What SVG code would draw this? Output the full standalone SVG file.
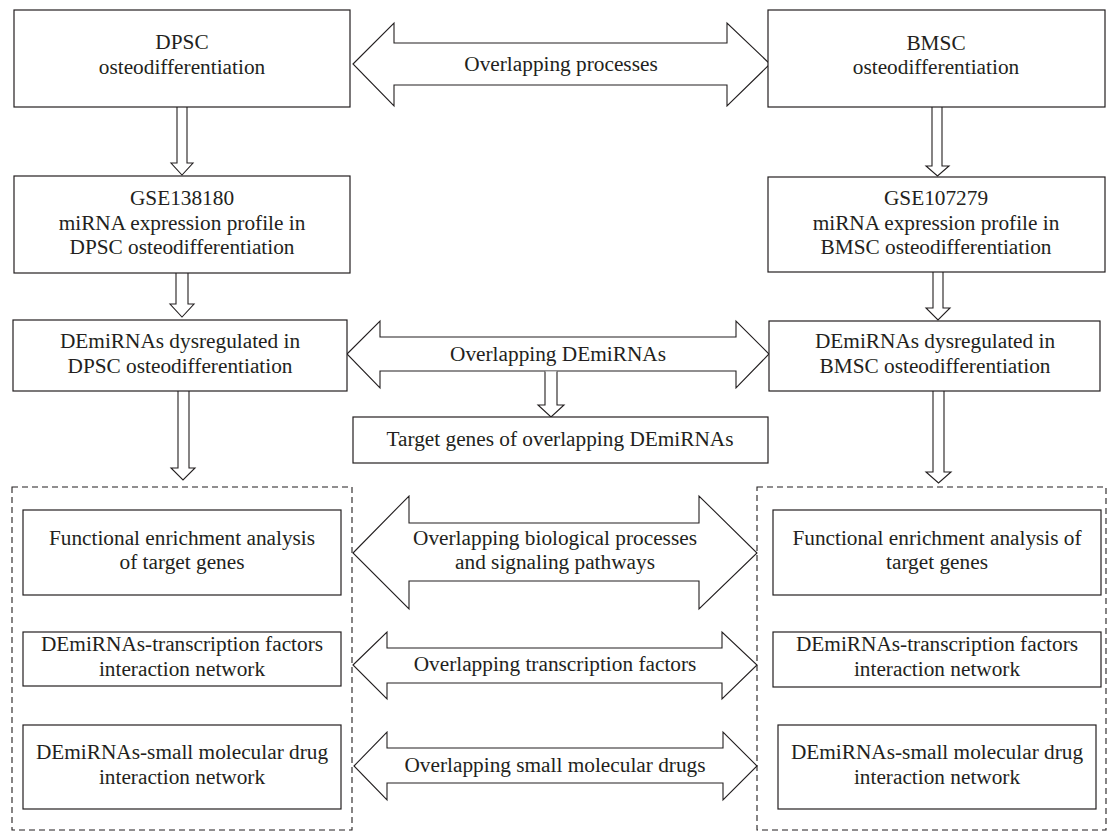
<svg xmlns="http://www.w3.org/2000/svg" width="1107" height="831" viewBox="0 0 1107 831">
<style>
  .box{fill:#fff;stroke:#231f20;stroke-width:1.2}
  .arr{fill:#fff;stroke:#231f20;stroke-width:1.1;stroke-linejoin:miter}
  .dash{fill:none;stroke:#231f20;stroke-width:1.1;stroke-dasharray:6 4}
  text{font-family:"Liberation Serif","Times New Roman",serif;font-size:21.3px;fill:#231f20;text-anchor:middle}
</style>
<rect width="1107" height="831" fill="#fff"/>
<g id="groups">
  <rect id="left-group" class="dash" x="12" y="487" width="340" height="343"/>
  <rect id="right-group" class="dash" x="757" y="487" width="349" height="343"/>
</g>
<g id="connectors">
  <path class="arr" d="M353,64 L394,23 L394,43 L727,43 L727,23 L770,64 L727,106 L727,85 L394,85 L394,106 Z"/>
  <text x="561" y="71">Overlapping processes</text>
  <path class="arr" d="M347,354 L380,321 L380,337 L736,337 L736,321 L769,354 L736,388 L736,371 L380,371 L380,388 Z"/>
  <text x="558" y="361">Overlapping DEmiRNAs</text>
  <path class="arr" d="M545,371.5 L545,405 L538,405 L551,417 L564,405 L557,405 L557,371.5"/>
  <path class="arr" d="M353,553 L409,496 L409,523 L699,523 L699,496 L757,553 L699,609 L699,581 L409,581 L409,609 Z"/>
  <text x="555" y="545">Overlapping biological processes</text>
  <text x="555" y="569">and signaling pathways</text>
  <path class="arr" d="M353,665 L387,632 L387,648 L722,648 L722,632 L757,665 L722,699 L722,683 L387,683 L387,699 Z"/>
  <text x="555" y="671">Overlapping transcription factors</text>
  <path class="arr" d="M354,766 L387,732 L387,748 L723,748 L723,732 L757,766 L723,800 L723,783 L387,783 L387,800 Z"/>
  <text x="555" y="772">Overlapping small molecular drugs</text>
  <path class="arr" d="M177,107 L177,163 L171,163 L182,175 L193,163 L187,163 L187,107"/>
  <path class="arr" d="M176,273 L176,304 L170,304 L182,317 L194,304 L188,304 L188,273"/>
  <path class="arr" d="M178,391 L178,468 L171,468 L183,480 L195,468 L189,468 L189,391"/>
  <path class="arr" d="M932,107 L932,166 L926,166 L937.5,176 L949,166 L942,166 L942,107"/>
  <path class="arr" d="M933,272 L933,308 L926,308 L938,320 L950,308 L943,308 L943,272"/>
  <path class="arr" d="M933,391 L933,472 L926,472 L938.5,483 L951,472 L944,472 L944,391"/>
</g>
<g id="dpsc">
  <rect class="box" x="14" y="10" width="336" height="97"/>
  <text x="182" y="49">DPSC</text>
  <text x="182" y="74">osteodifferentiation</text>
</g>
<g id="bmsc">
  <rect class="box" x="768" y="10" width="337" height="97"/>
  <text x="936" y="50">BMSC</text>
  <text x="936" y="74">osteodifferentiation</text>
</g>
<g id="gse138180">
  <rect class="box" x="14" y="176" width="336" height="97"/>
  <text x="182" y="205">GSE138180</text>
  <text x="182" y="230">miRNA expression profile in</text>
  <text x="182" y="254">DPSC osteodifferentiation</text>
</g>
<g id="gse107279">
  <rect class="box" x="768" y="177" width="337" height="95"/>
  <text x="936" y="205">GSE107279</text>
  <text x="936" y="230">miRNA expression profile in</text>
  <text x="936" y="254">BMSC osteodifferentiation</text>
</g>
<g id="dem-dpsc">
  <rect class="box" x="13" y="320" width="334" height="71"/>
  <text x="180" y="348">DEmiRNAs dysregulated in</text>
  <text x="180" y="373">DPSC osteodifferentiation</text>
</g>
<g id="dem-bmsc">
  <rect class="box" x="769" y="321" width="331" height="70"/>
  <text x="935" y="348">DEmiRNAs dysregulated in</text>
  <text x="935" y="373">BMSC osteodifferentiation</text>
</g>
<g id="target-genes">
  <rect class="box" x="353" y="417" width="415" height="46"/>
  <text x="560" y="446">Target genes of overlapping DEmiRNAs</text>
</g>
<g id="func-left">
  <rect class="box" x="23" y="510" width="318" height="85"/>
  <text x="182" y="545">Functional enrichment analysis</text>
  <text x="182" y="569">of target genes</text>
</g>
<g id="tf-left">
  <rect class="box" x="23" y="632" width="318" height="54"/>
  <text x="182" y="651">DEmiRNAs-transcription factors</text>
  <text x="182" y="676">interaction network</text>
</g>
<g id="drug-left">
  <rect class="box" x="23" y="725" width="318" height="84"/>
  <text x="182" y="759">DEmiRNAs-small molecular drug</text>
  <text x="182" y="784">interaction network</text>
</g>
<g id="func-right">
  <rect class="box" x="773" y="510" width="328" height="85"/>
  <text x="937" y="545">Functional enrichment analysis of</text>
  <text x="937" y="569">target genes</text>
</g>
<g id="tf-right">
  <rect class="box" x="773" y="632" width="328" height="55"/>
  <text x="937" y="651">DEmiRNAs-transcription factors</text>
  <text x="937" y="676">interaction network</text>
</g>
<g id="drug-right">
  <rect class="box" x="778" y="725" width="318" height="84"/>
  <text x="937" y="759">DEmiRNAs-small molecular drug</text>
  <text x="937" y="784">interaction network</text>
</g>
</svg>
